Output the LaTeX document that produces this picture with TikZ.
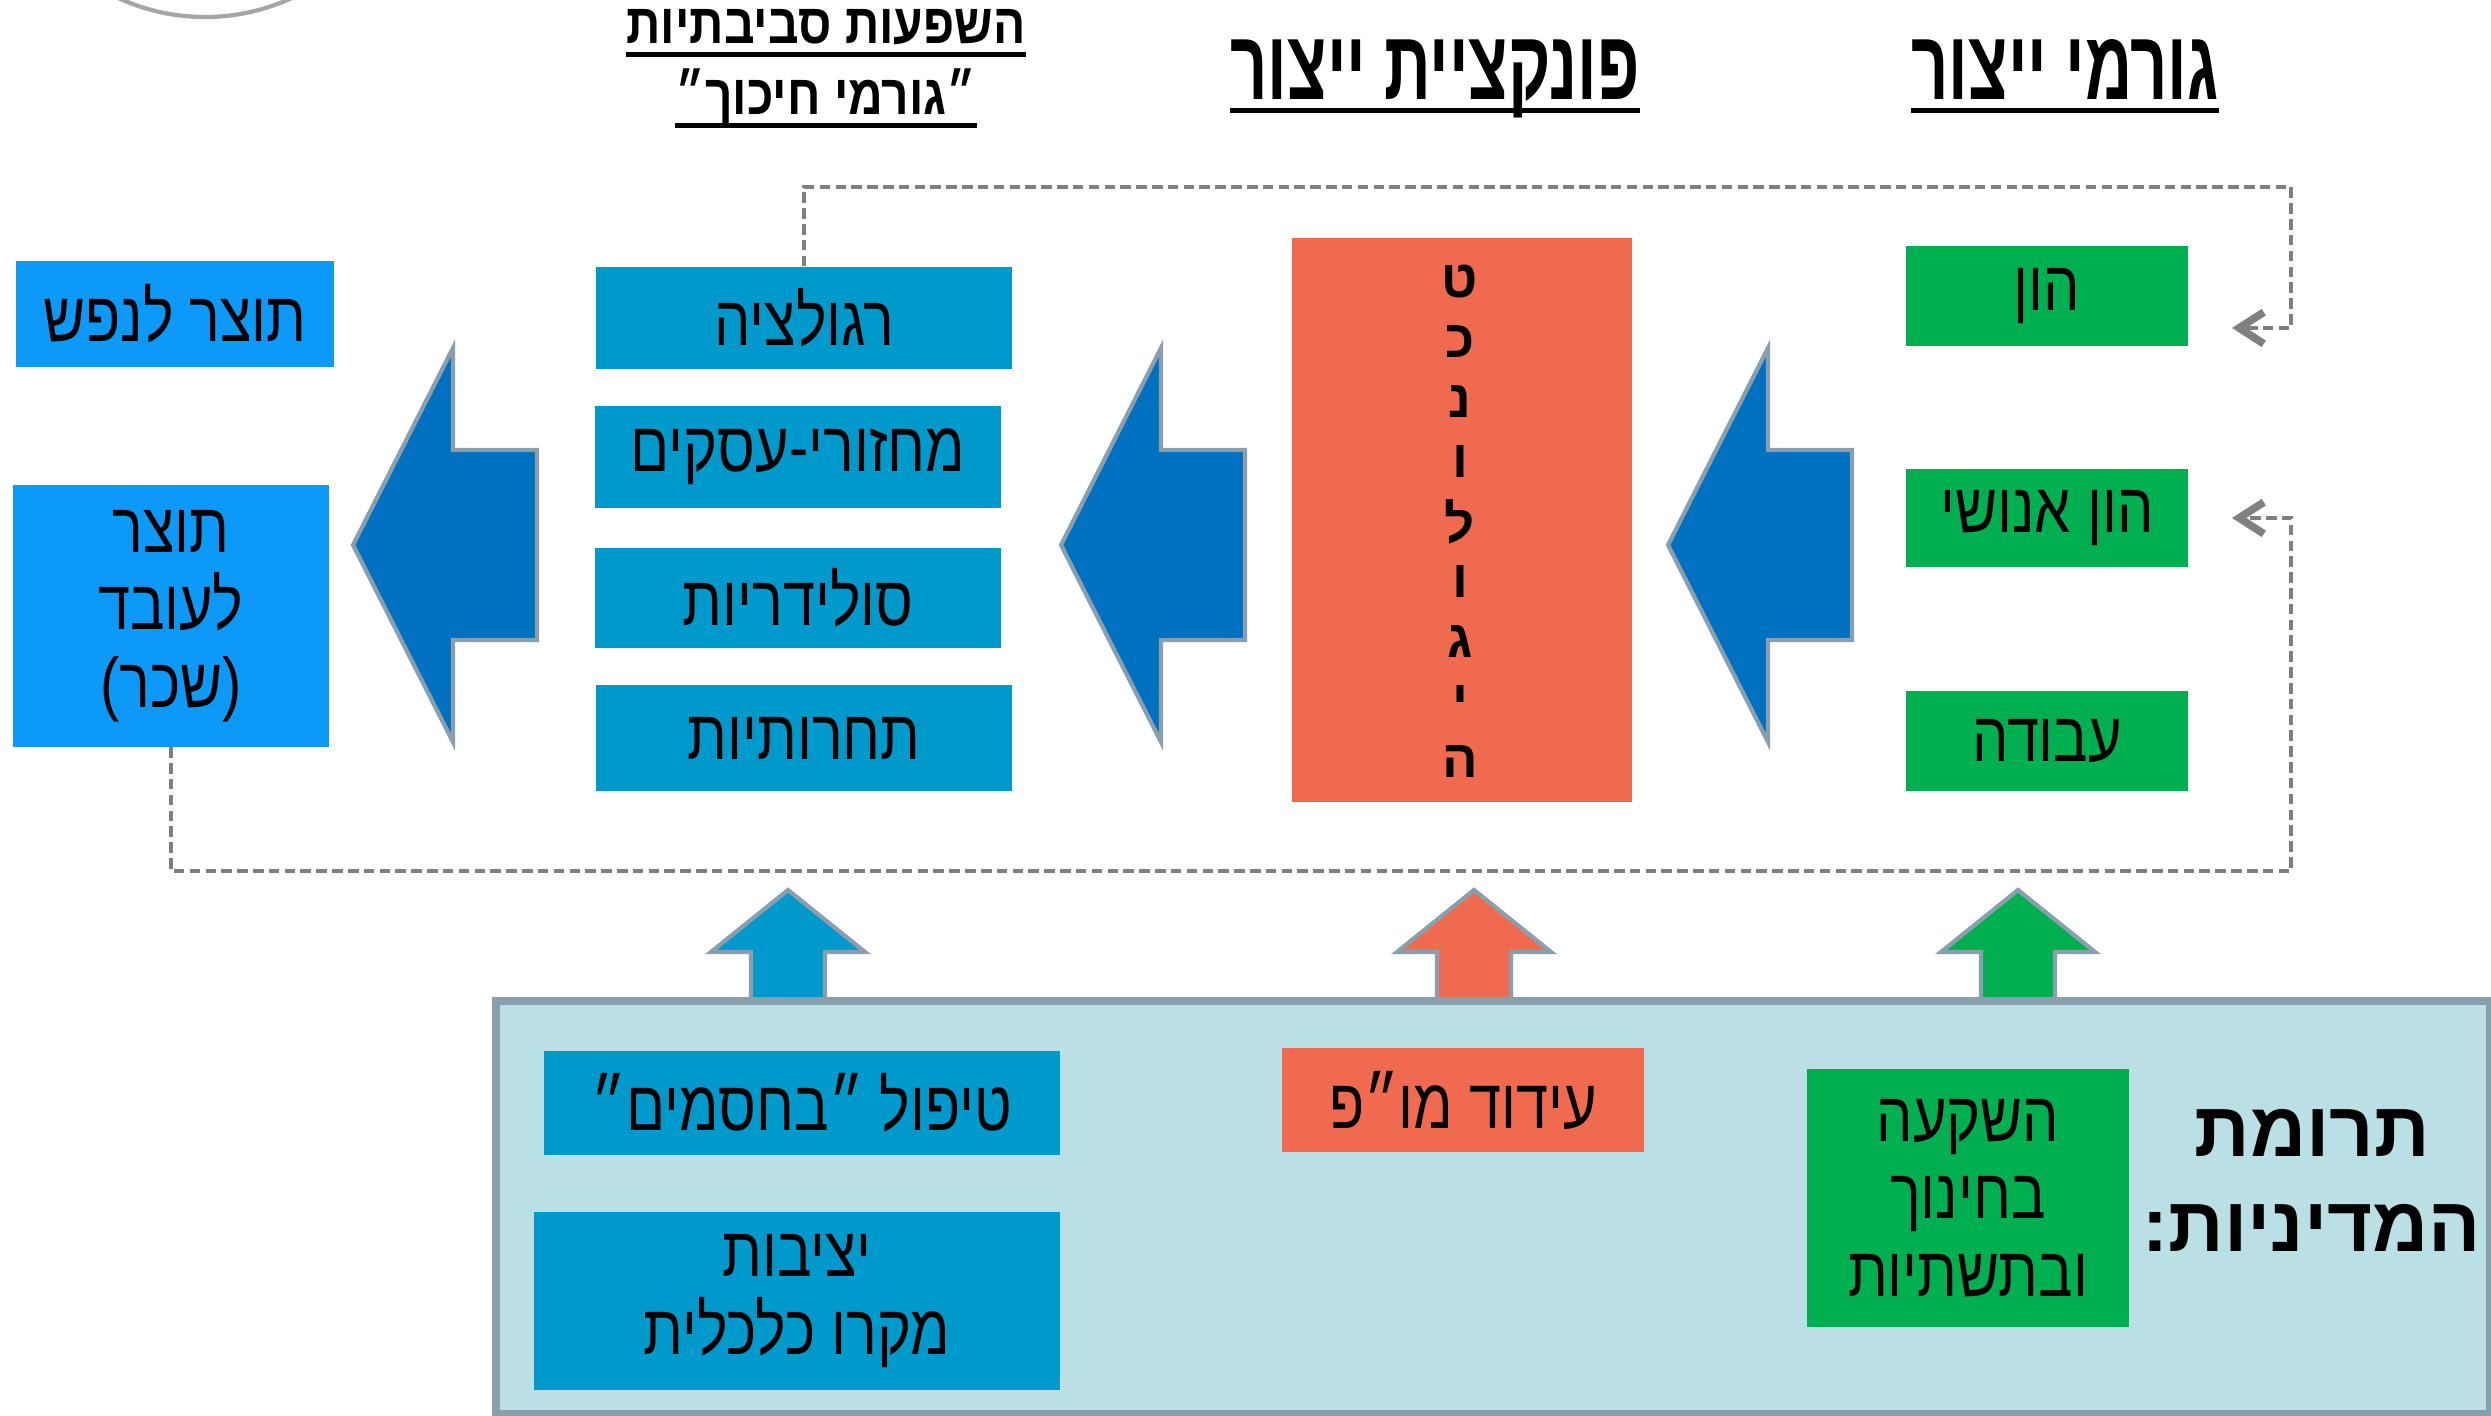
\documentclass[tikz,border=0pt]{standalone}
\usepackage{fontspec}
\usetikzlibrary{arrows.meta}
\newfontfamily\heb[Script=Hebrew,FakeStretch=0.82]{Liberation Sans}
\newfontfamily\hebb[Script=Hebrew]{Liberation Sans}
\newfontfamily\hebs[Script=Hebrew,FakeStretch=0.85]{Liberation Sans}
\newfontfamily\hebt[Script=Hebrew,FakeStretch=0.66]{Liberation Sans}
\TeXXeTstate=1
\newcommand{\rl}[1]{\beginR #1\endR}
\definecolor{grn}{HTML}{00B050}
\definecolor{coral}{HTML}{F06A50}
\definecolor{boxblue}{HTML}{0099CC}
\definecolor{skyblue}{HTML}{0D99F7}
\definecolor{arrblue}{HTML}{0070C0}
\definecolor{edgegray}{HTML}{8A9FAE}
\definecolor{panelblue}{HTML}{BADFE4}
\newcommand{\leftarr}[1]{\filldraw[bigarr,fill=arrblue] (#1,545) -- ++(100,-197) -- ++(0,102) -- ++(84,0) -- ++(0,190) -- ++(-84,0) -- ++(0,102) -- cycle;}
\newcommand{\uparr}[2]{\filldraw[bigarr,fill=#2] (#1,890) -- ++(77,62) -- ++(-40,0) -- ++(0,49) -- ++(-74,0) -- ++(0,-49) -- ++(-40,0) -- cycle;}
\begin{document}
\begin{tikzpicture}[x=0.01cm,y=-0.01cm,
  box/.style={font=\heb\fontsize{20}{22}\selectfont,inner sep=0pt,align=center,text=black},
  ttl/.style={font=\hebt\bfseries\fontsize{28}{30}\selectfont,inner sep=0pt,text height=19pt,text depth=0pt},
  sttl/.style={font=\hebs\bfseries\fontsize{16}{18}\selectfont,inner sep=0pt,text height=11pt,text depth=0pt},
  ul/.style={line width=1.4pt},
  vlet/.style={font=\hebb\bfseries\fontsize{15}{17}\selectfont,inner sep=0pt},
  bigarr/.style={draw=edgegray,line width=1.2pt},
  fb/.style={draw=gray,line width=1.2pt,dash pattern=on 3pt off 1.5pt,
    -{Straight Barb[length=7pt,width=9pt,line width=2.2pt]}}]
\useasboundingbox (0,0) rectangle (2491,1416);
\draw[gray!70,line width=1.2pt] (205,-190) circle[radius=207];

\node[ttl] (gormei) at (2065,66) {\rl{גורמי ייצור}};
\node[ttl] (func) at (1435,66) {\rl{פונקציית ייצור}};
\node[sttl] (hashpaot) at (826,24) {\rl{השפעות סביבתיות}};
\node[sttl] (chikuch) at (826,95) {\rl{״גורמי חיכוך״}};
\foreach \t in {gormei,func,hashpaot,chikuch}
  \draw[ul] ([yshift=-3pt]\t.south west) -- ([yshift=-3pt]\t.south east);

\leftarr{1668}
\leftarr{1061}
\leftarr{353}

\node[box,fill=grn,minimum width=2.82cm,minimum height=1cm] (hon) at (2047,296) {\rl{הון}};
\node[box,fill=grn,minimum width=2.82cm,minimum height=0.98cm] (honenoshi) at (2047,518) {\rl{הון אנושי}};
\node[box,fill=grn,minimum width=2.82cm,minimum height=1cm] (avoda) at (2047,741) {\rl{עבודה}};

\node[fill=coral,minimum width=3.4cm,minimum height=5.64cm] (tech) at (1462,520) {};
\foreach \ch [count=\i from 0] in {ט,כ,נ,ו,ל,ו,ג,י,ה}
  \node[vlet] (let\i) at (1460,{282+60*\i}) {\ch};

\node[box,fill=boxblue,minimum width=4.16cm,minimum height=1.02cm] (reg) at (804,318) {\rl{רגולציה}};
\node[box,fill=boxblue,minimum width=4.05cm,minimum height=1.01cm] (machzor) at (798,457) {\rl{מחזורי-עסקים}};
\node[box,fill=boxblue,minimum width=4.05cm,minimum height=1cm] (solid) at (798,598) {\rl{סולידריות}};
\node[box,fill=boxblue,minimum width=4.16cm,minimum height=1.05cm] (tachrut) at (804,738) {\rl{תחרותיות}};

\node[box,fill=skyblue,minimum width=3.18cm,minimum height=1.05cm] (lenefesh) at (175,314) {\rl{תוצר לנפש}};
\node[box,fill=skyblue,minimum width=3.16cm,minimum height=2.61cm] (laoved) at (171,616) {\rl{תוצר}\\\rl{לעובד}\\\rl{(שכר)}};

\coordinate (c1) at (2291,187);
\coordinate (c2) at (2291,871);
\coordinate (in1) at (2232,328);
\coordinate (in2) at (2232,518);
\draw[fb] (reg.north) |- (c1) |- (in1);
\draw[fb] (laoved.south) |- (c2) |- (in2);

\uparr{788}{boxblue}
\uparr{1474}{coral}
\uparr{2018}{grn}
\filldraw[fill=panelblue,draw=edgegray,line width=2pt] (496,1001) rectangle (2489,1414);

\node[box,fill=boxblue,minimum width=5.15cm,minimum height=1.03cm] (tipul) at (802,1103) {\rl{טיפול ״בחסמים״}};
\node[box,fill=boxblue,minimum width=5.25cm,minimum height=1.78cm] (yetsivut) at (797,1301) {\rl{יציבות}\\\rl{מקרו כלכלית}};
\node[box,fill=coral,minimum width=3.62cm,minimum height=1.03cm] (idud) at (1463,1100) {\rl{עידוד מו״פ}};
\node[box,fill=grn,minimum width=3.21cm,minimum height=2.58cm] (haskaa) at (1968,1198) {\rl{השקעה}\\\rl{בחינוך}\\\rl{ובתשתיות}};
\node[font=\hebb\bfseries\fontsize{22}{27}\selectfont,align=center,inner sep=0pt] (truma) at (2312,1180) {\rl{תרומת}\\\rl{המדיניות:}};
\end{tikzpicture}
\end{document}
